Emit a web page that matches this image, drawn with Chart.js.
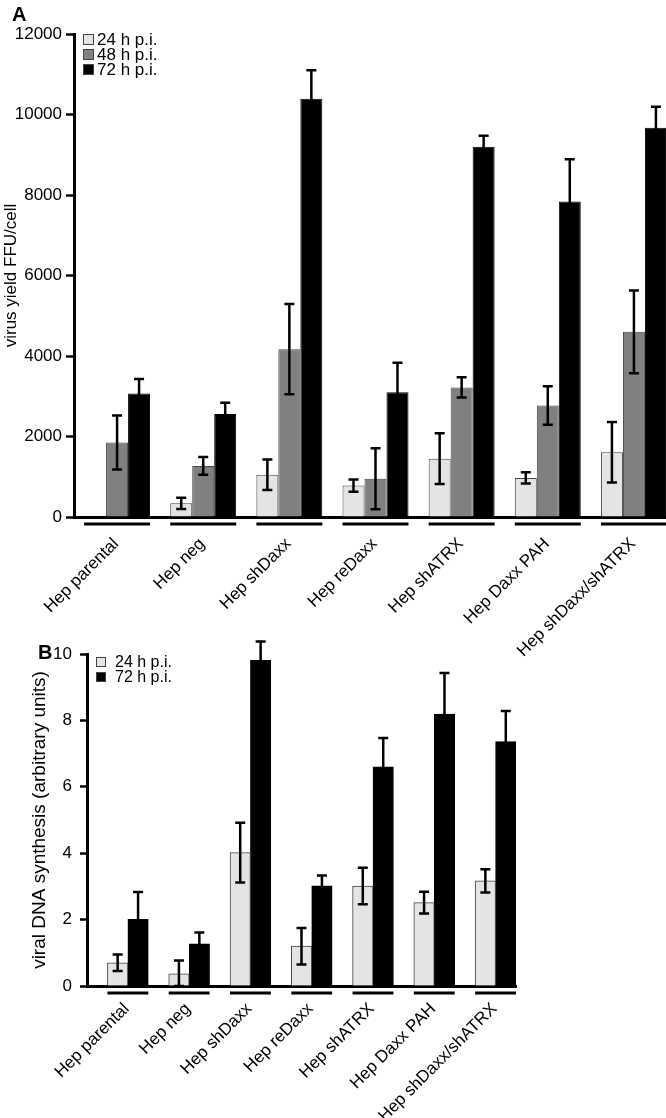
<!DOCTYPE html>
<html>
<head>
<meta charset="utf-8">
<script src="https://cdn.jsdelivr.net/npm/chart.js@4/dist/chart.umd.min.js"></script>
<style>
  html, body { margin: 0; padding: 0; background: #fff; }
  #wrap { position: relative; width: 666px; height: 1118px; overflow: hidden; }
  canvas { position: absolute; left: 0; }
  #chartA { top: 0; }
  #chartB { top: 615px; }
  .panel { position: absolute; font: bold 20px "Liberation Sans", Arial, sans-serif; color: #000; }
</style>
</head>
<body>
<div id="wrap">
  <canvas id="chartA" width="690" height="665"></canvas>
  <canvas id="chartB" width="666" height="503"></canvas>
  <div class="panel" style="left:12px;top:3px;">A</div>
  <div class="panel" style="left:38px;top:641px;">B</div>
</div>
<script>
const cellLines = ["Hep parental", "Hep neg", "Hep shDaxx", "Hep reDaxx", "Hep shATRX", "Hep Daxx PAH", "Hep shDaxx/shATRX"];

// panel A: virus yield (FFU/cell)
const yield24 = [null, 340, 1050, 780, 1450, 970, 1610];
const yield24Err = [null, 140, 380, 150, 630, 140, 750];
const yield48 = [1850, 1270, 4170, 950, 3220, 2770, 4600];
const yield48Err = [670, 220, 1120, 760, 250, 480, 1030];
const yield72 = [3070, 2560, 10390, 3100, 9200, 7840, 9670];
const yield72Err = [360, 280, 710, 730, 270, 1050, 520];
const yieldTicks = [0, 2000, 4000, 6000, 8000, 10000, 12000];

// panel B: viral DNA synthesis (arbitrary units)
const dna24 = [0.7, 0.37, 4.02, 1.2, 3.01, 2.51, 3.17];
const dna24Err = [0.25, 0.4, 0.9, 0.55, 0.55, 0.33, 0.35];
const dna72 = [2.01, 1.27, 9.81, 3.02, 6.6, 8.19, 7.36];
const dna72Err = [0.82, 0.34, 0.57, 0.31, 0.87, 1.24, 0.92];
const dnaTicks = [0, 2, 4, 6, 8, 10];

const FONT = "'Liberation Sans', Arial, Helvetica, sans-serif";
Chart.defaults.font.family = FONT;
Chart.defaults.font.size = 17;
Chart.defaults.color = "#000";

const LIGHT = "#e4e4e4";
const MID = "#808080";
const DARK = "#000000";

// error bars drawn on top of the bars
const errorBars = {
  id: "errorBars",
  afterDatasetsDraw(chart) {
    const ctx = chart.ctx;
    const yScale = chart.scales.y;
    chart.data.datasets.forEach((ds, di) => {
      if (!ds.errors) return;
      const meta = chart.getDatasetMeta(di);
      meta.data.forEach((bar, i) => {
        const v = ds.data[i];
        const e = ds.errors[i];
        if (v == null || e == null) return;
        const top = yScale.getPixelForValue(v + e);
        const bot = yScale.getPixelForValue(Math.max(v - e, 0));
        ctx.save();
        ctx.strokeStyle = "#000";
        ctx.lineWidth = 2.5;
        ctx.beginPath();
        ctx.moveTo(bar.x, top);
        ctx.lineTo(bar.x, bot);
        ctx.moveTo(bar.x - 5, top);
        ctx.lineTo(bar.x + 5, top);
        ctx.moveTo(bar.x - 5, bot);
        ctx.lineTo(bar.x + 5, bot);
        ctx.stroke();
        ctx.restore();
      });
    });
  },
};

// short line under each group of bars
const groupLines = {
  id: "groupLines",
  afterDraw(chart) {
    const ctx = chart.ctx;
    const shown = chart.data.datasets
      .map((ds, di) => (ds.label ? di : -1))
      .filter((di) => di >= 0);
    const first = chart.getDatasetMeta(shown[0]);
    const last = chart.getDatasetMeta(shown[shown.length - 1]);
    const y = chart.chartArea.bottom + 7;
    ctx.save();
    ctx.strokeStyle = "#000";
    ctx.lineWidth = 3;
    first.data.forEach((bar, i) => {
      const end = last.data[i];
      ctx.beginPath();
      ctx.moveTo(bar.x - bar.width / 2, y);
      ctx.lineTo(end.x + end.width / 2, y);
      ctx.stroke();
    });
    ctx.restore();
  },
};

// legend in the top-left corner of the plot
const boxLegend = {
  id: "boxLegend",
  afterDraw(chart, args, opts) {
    const ctx = chart.ctx;
    const x = chart.chartArea.left + opts.offsetX;
    let y = chart.chartArea.top + opts.offsetY;
    ctx.save();
    ctx.font = opts.fontSize + "px " + FONT;
    ctx.textBaseline = "middle";
    chart.data.datasets.forEach((ds) => {
      if (!ds.label) return;
      ctx.fillStyle = ds.backgroundColor;
      ctx.fillRect(x, y, opts.box, opts.box);
      ctx.strokeStyle = "#444";
      ctx.lineWidth = 1;
      ctx.strokeRect(x + 0.5, y + 0.5, opts.box - 1, opts.box - 1);
      ctx.fillStyle = "#000";
      ctx.fillText(ds.label, x + opts.textGap, y + opts.box / 2 + 1);
      y += opts.step;
    });
    ctx.restore();
  },
};

function barSet(label, data, errors, color) {
  return {
    label: label,
    data: data,
    errors: errors,
    backgroundColor: color,
    borderColor: color === DARK ? DARK : "#444",
    borderWidth: 1,
    barPercentage: 1,
  };
}

function yAxis(ticks, title, width, titlePad, titleSize, tickLen, tickPad) {
  return {
    min: ticks[0],
    max: ticks[ticks.length - 1],
    afterBuildTicks: (s) => {
      s.ticks = ticks.map((v) => ({ value: v }));
    },
    afterFit: (s) => {
      s.width = width;
    },
    grid: {
      drawOnChartArea: false,
      drawTicks: true,
      tickLength: tickLen,
      tickWidth: 2.5,
      tickColor: "#000",
    },
    border: { display: true, width: 3, color: "#000" },
    ticks: {
      padding: tickPad,
      font: { size: 17 },
      // plain numbers, no thousands separator
      callback: (v) => String(v),
    },
    title: {
      display: true,
      text: title,
      font: { size: titleSize },
      padding: { top: titlePad, bottom: 0 },
    },
  };
}

function xAxis(height, labelOffset, pad) {
  return {
    z: 1,
    afterFit: (s) => {
      s.height = height;
    },
    grid: { display: false },
    border: { display: true, width: 3, color: "#000" },
    ticks: {
      autoSkip: false,
      minRotation: 45,
      maxRotation: 45,
      padding: pad,
      labelOffset: labelOffset,
      font: { size: 17 },
    },
  };
}

function renderPanelA() {
  new Chart(document.getElementById("chartA"), {
    type: "bar",
    data: {
      labels: cellLines,
      datasets: [
        barSet("24 h p.i.", yield24, yield24Err, LIGHT),
        barSet("48 h p.i.", yield48, yield48Err, MID),
        barSet("72 h p.i.", yield72, yield72Err, DARK),
      ],
    },
    options: {
      responsive: false,
      animation: false,
      datasets: { bar: { categoryPercentage: 0.766 } },
      layout: { padding: { top: 34, right: 13, left: 0, bottom: 0 } },
      plugins: {
        legend: { display: false },
        tooltip: { enabled: false },
        boxLegend: { offsetX: 9, offsetY: 0, box: 11, step: 15, textGap: 14, fontSize: 17 },
      },
      scales: {
        x: xAxis(148, -1, 9),
        y: yAxis(yieldTicks, "virus yield FFU/cell", 74, 1, 17, 8, 4),
      },
    },
    plugins: [errorBars, groupLines, boxLegend],
  });
}

function renderPanelB() {
  new Chart(document.getElementById("chartB"), {
    type: "bar",
    data: {
      labels: cellLines,
      datasets: [
        // empty slot so that each pair sits at the right of its category
        { label: "", data: cellLines.map(() => null), barPercentage: 1 },
        barSet("24 h p.i.", dna24, dna24Err, LIGHT),
        barSet("72 h p.i.", dna72, dna72Err, DARK),
      ],
    },
    options: {
      responsive: false,
      animation: false,
      datasets: { bar: { categoryPercentage: 1 } },
      layout: { padding: { top: 39, right: 150, left: 0, bottom: 0 } },
      plugins: {
        legend: { display: false },
        tooltip: { enabled: false },
        boxLegend: { offsetX: 9, offsetY: 3, box: 10, step: 15, textGap: 19, fontSize: 16 },
      },
      scales: {
        x: xAxis(132, 9, 5),
        y: yAxis(dnaTicks, "viral DNA synthesis (arbitrary units)", 87, 28, 19, 7, 8),
      },
    },
    plugins: [errorBars, groupLines, boxLegend],
  });
}

renderPanelA();
renderPanelB();
</script>
</body>
</html>
